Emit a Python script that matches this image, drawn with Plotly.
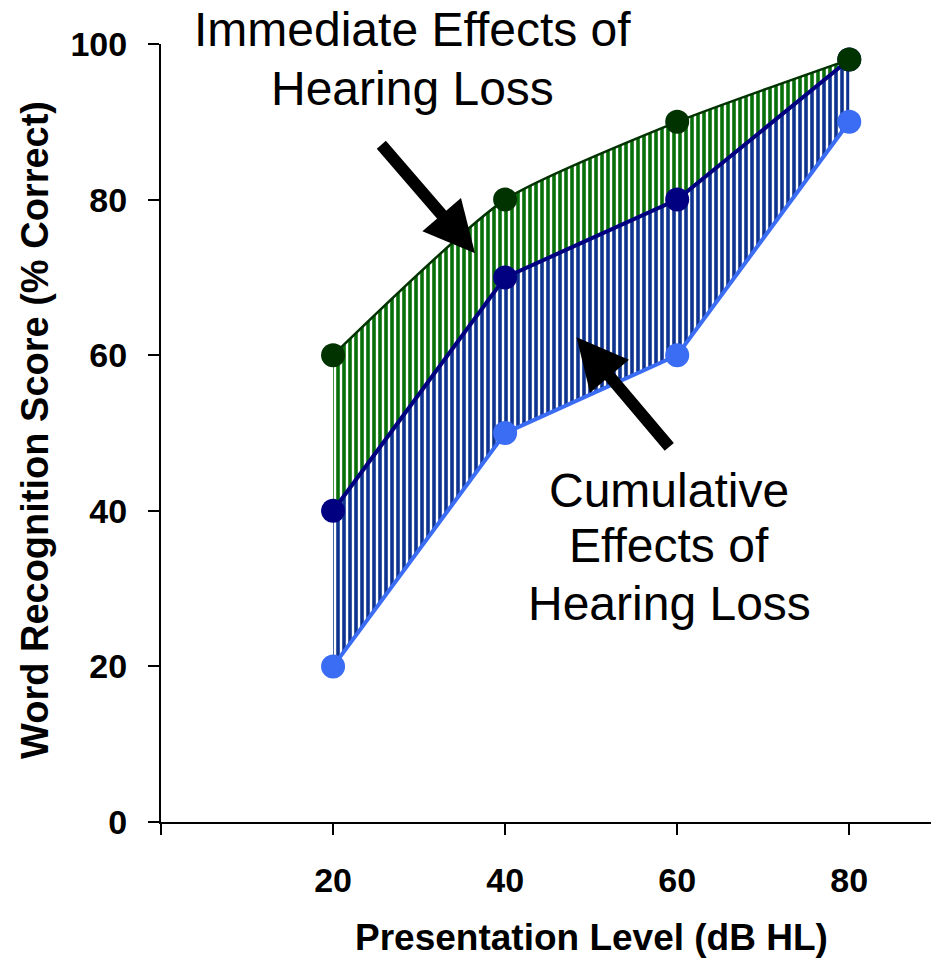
import plotly.graph_objects as go

levels = [20, 40, 60, 80]
green_scores = [60, 80, 90, 98]      # upper curve
navy_scores = [40, 70, 80, 98]       # middle curve
light_scores = [20, 50, 60, 90]      # lower curve
x_ticks = [0, 20, 40, 60, 80]
x_tick_text = ["", "20", "40", "60", "80"]
y_ticks = [0, 20, 40, 60, 80, 100]

L, T, W, H = 161, 44, 770, 778


def px(x):
    return (x - L) / W


def py(y):
    return (T + H - y) / H


fig = go.Figure()

fig.add_trace(go.Scatter(x=levels, y=light_scores, mode="lines",
                         line=dict(color="#3a6cf4", width=4), hoverinfo="skip"))
fig.add_trace(go.Scatter(x=levels, y=navy_scores, mode="lines", fill="tonexty",
                         fillcolor="white",
                         fillpattern=dict(shape="|", fgcolor="#0f3490", bgcolor="white",
                                          fgopacity=1, size=6, solidity=0.6),
                         line=dict(color="#000080", width=4), hoverinfo="skip"))
fig.add_trace(go.Scatter(x=levels, y=green_scores, mode="lines", fill="tonexty",
                         fillcolor="white",
                         fillpattern=dict(shape="|", fgcolor="#087008", bgcolor="white",
                                          fgopacity=1, size=6, solidity=0.6),
                         line=dict(color="#003300", width=2.5, shape="spline", smoothing=0.6),
                         hoverinfo="skip"))
for ys, col in [(light_scores, "#3a6cf4"), (navy_scores, "#000080"), (green_scores, "#003300")]:
    fig.add_trace(go.Scatter(x=levels, y=ys, mode="markers",
                             marker=dict(color=col, size=24), cliponaxis=False,
                             hoverinfo="skip"))

ann_font = dict(family="Liberation Sans, Arial, sans-serif", size=48, color="black")
for text, x, y in [("Immediate Effects of", 412, 30), ("Hearing Loss", 412, 88),
                   ("Cumulative", 669, 490), ("Effects of", 669, 545),
                   ("Hearing Loss", 669, 603)]:
    fig.add_annotation(xref="paper", yref="paper", x=px(x), y=py(y), text=text,
                       showarrow=False, font=ann_font, xanchor="center", yanchor="middle")

fig.add_annotation(x=36.5, y=73.1, ax=-95, ay=-110, text="", showarrow=True,
                   arrowhead=2, arrowwidth=12, arrowsize=0.85, arrowcolor="black")
fig.add_annotation(x=48.3, y=62.3, ax=94, ay=111, text="", showarrow=True,
                   arrowhead=2, arrowwidth=12, arrowsize=0.85, arrowcolor="black")

title_font = dict(family="Liberation Sans, Arial, sans-serif", size=37, color="black")
fig.add_annotation(xref="paper", yref="paper", x=px(591), y=py(938),
                   text="<b>Presentation Level (dB HL)</b>", showarrow=False,
                   font=title_font, xanchor="center", yanchor="middle")
fig.add_annotation(xref="paper", yref="paper", x=px(35), y=py(430),
                   text="<b>Word Recognition Score (% Correct)</b>", showarrow=False,
                   font=dict(family="Liberation Sans, Arial, sans-serif", size=38, color="black"),
                   textangle=-90, xanchor="center", yanchor="middle")

tick_font = dict(family="Liberation Sans, Arial, sans-serif", size=34, color="black",
                 weight="bold")

fig.update_layout(
    width=931, height=960, showlegend=False,
    margin=dict(l=L, r=0, t=T, b=960 - T - H),
    paper_bgcolor="white", plot_bgcolor="white",
    xaxis=dict(range=[0, 89.5], tickvals=x_ticks, ticktext=x_tick_text,
               showgrid=False, zeroline=False, showline=True, linecolor="black",
               linewidth=2, ticks="outside", ticklen=11, tickwidth=2, tickcolor="black",
               tickfont=tick_font, ticklabelstandoff=16),
    yaxis=dict(range=[0, 100], tickvals=y_ticks,
               showgrid=False, zeroline=False, showline=True, linecolor="black",
               linewidth=2, ticks="outside", ticklen=11, tickwidth=2, tickcolor="black",
               tickfont=tick_font, ticklabelstandoff=14),
)

fig.write_html("out.html")
